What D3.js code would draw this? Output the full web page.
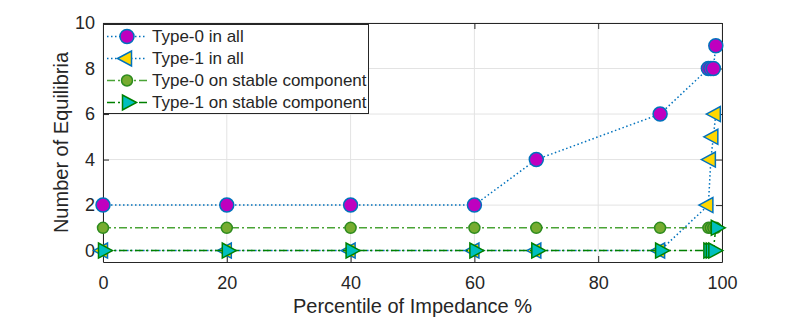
<!DOCTYPE html>
<html>
<head>
<meta charset="utf-8">
<script src="https://cdn.jsdelivr.net/npm/d3@7"></script>
<style>
  body { margin: 0; background: #fff; }
  text { font-family: "Liberation Sans", Arial, Helvetica, sans-serif; fill: #262626; }
</style>
</head>
<body>
<div id="chart"></div>
<script>
// data
const percentiles = [0, 20, 40, 60, 70, 90, 97.8, 98.2, 98.6, 99];
const type0All = [2, 2, 2, 2, 4, 6, 8, 8, 8, 9];
const type1All = [0, 0, 0, 0, 0, 0, 2, 4, 5, 6];
const type0Stable = [1, 1, 1, 1, 1, 1, 1, 1, 1, 1];
const type1Stable = [0, 0, 0, 0, 0, 0, 0, 0, 0, 1];
const xTicks = [0, 20, 40, 60, 80, 100];
const yTicks = [0, 2, 4, 6, 8, 10];
const seriesNames = ["Type-0 in all", "Type-1 in all", "Type-0 on stable component", "Type-1 on stable component"];

//Setting up chart dims
let width = 797, height = 320;
let plot = {left: 103, right: 722, top: 23, bottom: 262};

let svg = d3.select("#chart").append("svg")
    .attr("width", width)
    .attr("height", height);

let x = d3.scaleLinear().domain([0, 100]).range([plot.left, plot.right]);
let y = d3.scaleLinear().domain([-0.5, 10]).range([plot.bottom, plot.top]);

//Grid lines
svg.append("g").selectAll("line").data(xTicks).enter().append("line")
    .attr("x1", d => x(d)).attr("x2", d => x(d))
    .attr("y1", plot.top).attr("y2", plot.bottom)
    .attr("stroke", "#e3e3e3").attr("stroke-width", 1);
svg.append("g").selectAll("line").data(yTicks).enter().append("line")
    .attr("x1", plot.left).attr("x2", plot.right)
    .attr("y1", d => y(d)).attr("y2", d => y(d))
    .attr("stroke", "#e3e3e3").attr("stroke-width", 1);

//Axes with inward ticks, box on all 4 sides
svg.append("g")
    .attr("transform", "translate(0," + plot.bottom + ")")
    .call(d3.axisBottom(x).tickValues(xTicks).tickSize(-6).tickPadding(14).tickSizeOuter(0))
    .call(g => g.selectAll("text").style("font-size", "18px").attr("fill", "#262626"));
svg.append("g")
    .attr("transform", "translate(0," + plot.top + ")")
    .call(d3.axisTop(x).tickValues(xTicks).tickSize(-6).tickFormat("").tickSizeOuter(0));
svg.append("g")
    .attr("transform", "translate(" + plot.left + ",0)")
    .call(d3.axisLeft(y).tickValues(yTicks).tickSize(-6).tickPadding(8).tickSizeOuter(0))
    .call(g => g.selectAll("text").style("font-size", "18px").attr("fill", "#262626"));
svg.append("g")
    .attr("transform", "translate(" + plot.right + ",0)")
    .call(d3.axisRight(y).tickValues(yTicks).tickSize(-6).tickFormat("").tickSizeOuter(0));
svg.selectAll(".domain").attr("stroke", "#262626");
svg.selectAll(".tick line").attr("stroke", "#262626");

//Axis labels
svg.append("text")
    .attr("x", (plot.left + plot.right) / 2)
    .attr("y", 313)
    .style("text-anchor", "middle")
    .style("font-size", "20px")
    .text("Percentile of Impedance %");
svg.append("text")
    .attr("transform", "rotate(-90)")
    .attr("x", -(plot.top + plot.bottom) / 2)
    .attr("y", 68)
    .style("text-anchor", "middle")
    .style("font-size", "20px")
    .text("Number of Equilibria");

//marker shapes
const triLeft = "M-9.5,0L4.5,-7.5L4.5,7.5Z";
const triRight = "M9.5,0L-4.5,-7.5L-4.5,7.5Z";

const series = [
    {name: seriesNames[0], values: type0All, line: "#0072bd", dash: "1.5,2.5", marker: "circle", r: 7, fill: "#bf00bf", edge: "#0072bd"},
    {name: seriesNames[1], values: type1All, line: "#0072bd", dash: "1.5,2.5", marker: triLeft, fill: "#ffd700", edge: "#0072bd"},
    {name: seriesNames[2], values: type0Stable, line: "#4aa336", dash: "8,3,2,3", marker: "circle", r: 5.5, fill: "#77ac30", edge: "#2e8b1e"},
    {name: seriesNames[3], values: type1Stable, line: "#008000", dash: "8,3,2,3", marker: triRight, fill: "#00bfbf", edge: "#008000"}
];

function drawMarker(g, s, cx, cy) {
    if (s.marker === "circle") {
        g.append("circle").attr("cx", cx).attr("cy", cy).attr("r", s.r)
            .attr("fill", s.fill).attr("stroke", s.edge).attr("stroke-width", 1.5);
    } else {
        g.append("path").attr("d", s.marker)
            .attr("transform", "translate(" + cx + "," + cy + ")")
            .attr("fill", s.fill).attr("stroke", s.edge).attr("stroke-width", 1.5)
            .attr("stroke-linejoin", "miter");
    }
}

//Draw each series: line then markers
series.forEach(s => {
    let pts = percentiles.map((p, i) => ({p: p, v: s.values[i]}));
    let g = svg.append("g");
    g.append("path")
        .datum(pts)
        .attr("fill", "none")
        .attr("stroke", s.line)
        .attr("stroke-width", 1.5)
        .style("stroke-dasharray", s.dash)
        .attr("d", d3.line().x(d => x(d.p)).y(d => y(d.v)));
    pts.forEach(d => drawMarker(g, s, x(d.p), y(d.v)));
});

//Legend box
let legend = svg.append("g");
legend.append("rect")
    .attr("x", 103.5).attr("y", 24.5)
    .attr("width", 265).attr("height", 89)
    .attr("fill", "#fff").attr("stroke", "#262626").attr("stroke-width", 1);
series.forEach((s, i) => {
    let ly = 36.5 + i * 22;
    legend.append("line")
        .attr("x1", 107).attr("x2", 147).attr("y1", ly).attr("y2", ly)
        .attr("stroke", s.line).attr("stroke-width", 1.5)
        .style("stroke-dasharray", s.dash);
    drawMarker(legend, s, 127, ly);
    legend.append("text")
        .attr("x", 152).attr("y", ly)
        .attr("dy", "0.35em")
        .style("font-size", "17px")
        .text(s.name);
});
</script>
</body>
</html>
